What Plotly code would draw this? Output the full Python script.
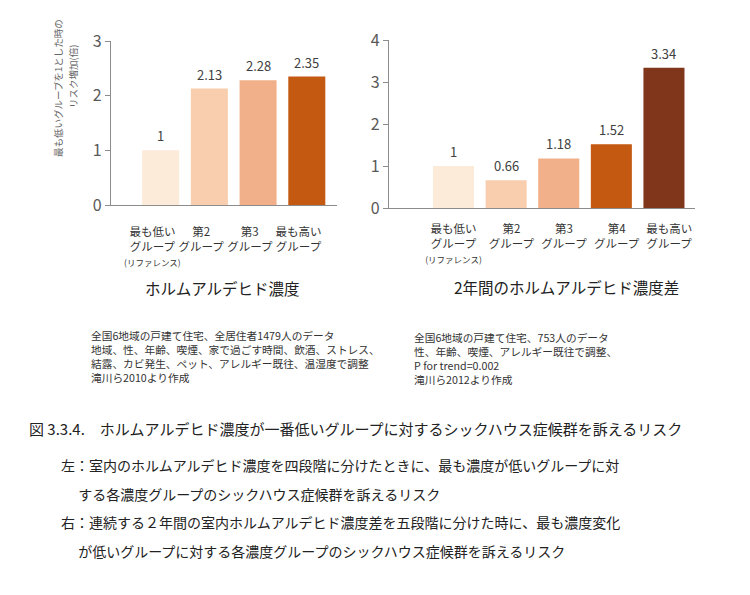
import plotly.graph_objects as go

# ---- data ----
left_categories = ["最も低い", "第2", "第3", "最も高い"]
left_values = [1, 2.13, 2.28, 2.35]
left_labels = ["1", "2.13", "2.28", "2.35"]

right_categories = ["最も低い", "第2", "第3", "第4", "最も高い"]
right_values = [1, 0.66, 1.18, 1.52, 3.34]
right_labels = ["1", "0.66", "1.18", "1.52", "3.34"]

left_colors = ["#FCEBD9", "#F8CEAE", "#F1B089", "#C45911"]
right_colors = ["#FCEBD9", "#F8CEAE", "#F1B089", "#C45911", "#80361A"]

left_title = "ホルムアルデヒド濃度"
right_title = "2年間のホルムアルデヒド濃度差"
y_title_lines = ["最も低いグループを1とした時の", "リスク増加(倍)"]

left_note = [
    "全国6地域の戸建て住宅、全居住者1479人のデータ",
    "地域、性、年齢、喫煙、家で過ごす時間、飲酒、ストレス、",
    "結露、カビ発生、ペット、アレルギー既往、温湿度で調整",
    "滝川ら2010より作成",
]
right_note = [
    "全国6地域の戸建て住宅、753人のデータ",
    "性、年齢、喫煙、アレルギー既往で調整、",
    "P for trend=0.002",
    "滝川ら2012より作成",
]

caption = "図 3.3.4.　ホルムアルデヒド濃度が一番低いグループに対するシックハウス症候群を訴えるリスク"
caption_lines = [
    "左：室内のホルムアルデヒド濃度を四段階に分けたときに、最も濃度が低いグループに対",
    "　 する各濃度グループのシックハウス症候群を訴えるリスク",
    "右：連続する２年間の室内ホルムアルデヒド濃度差を五段階に分けた時に、最も濃度変化",
    "　 が低いグループに対する各濃度グループのシックハウス症候群を訴えるリスク",
]

FONT = "Noto Sans CJK JP"
W, H = 750, 595
OFF = 8  # page body margin


def px_y(y):
    return 1 - (y - OFF) / H


def px_x(x):
    return (x - OFF) / W


def tick_text(cat, first):
    txt = cat + "<br>グループ"
    if first:
        txt += '<br><span style="font-size:8.5px">(リファレンス)</span>'
    return txt


def note(text, x, y, size, xanchor="center", yanchor="middle", **kw):
    fig.add_annotation(xref="paper", yref="paper", x=px_x(x), y=px_y(y),
                       xanchor=xanchor, yanchor=yanchor, text=text,
                       showarrow=False, font=dict(size=size, family=FONT,
                                                  color=kw.pop("color", "#333333")),
                       **kw)


fig = go.Figure()

fig.add_bar(
    x=list(range(len(left_values))),
    y=left_values,
    marker=dict(color=left_colors, line_width=0),
    width=0.76,
    xaxis="x",
    yaxis="y",
    showlegend=False,
)
fig.add_bar(
    x=list(range(len(right_values))),
    y=right_values,
    marker=dict(color=right_colors, line_width=0),
    width=0.78,
    xaxis="x2",
    yaxis="y2",
    showlegend=False,
)

# value labels above bars
for i, (v, t) in enumerate(zip(left_values, left_labels)):
    fig.add_annotation(x=i, y=v, xref="x", yref="y", text=t, showarrow=False,
                       xanchor="center", yanchor="bottom", yshift=3,
                       font=dict(size=13, color="#404040", family=FONT))
for i, (v, t) in enumerate(zip(right_values, right_labels)):
    fig.add_annotation(x=i, y=v, xref="x2", yref="y2", text=t, showarrow=False,
                       xanchor="center", yanchor="bottom", yshift=3,
                       font=dict(size=13, color="#404040", family=FONT))

axis_common = dict(showline=True, linecolor="#8C8C8C", linewidth=1.2,
                   showgrid=False, zeroline=False, automargin=False)

fig.update_layout(
    width=W,
    height=H,
    margin=dict(l=0, r=0, t=0, b=0, autoexpand=False),
    paper_bgcolor="white",
    plot_bgcolor="white",
    font=dict(family=FONT, color="#333333"),
    xaxis=dict(
        domain=[px_x(111), px_x(337)],
        range=[-1.02, 3.62],
        tickmode="array",
        # labels sit slightly left of the bar centres in the original
        tickvals=[i - 0.17 for i in range(len(left_categories))],
        ticktext=[tick_text(c, i == 0) for i, c in enumerate(left_categories)],
        tickfont=dict(size=11.5, color="#333333"),
        tickangle=0,
        ticks="",
        ticklabelstandoff=16,
        anchor="y",
        **axis_common,
    ),
    yaxis=dict(
        domain=[px_y(205), px_y(41)],
        range=[0, 3],
        dtick=1,
        ticks="outside",
        ticklen=5,
        tickcolor="#8C8C8C",
        tickfont=dict(size=16, color="#595959"),
        anchor="x",
        **axis_common,
    ),
    xaxis2=dict(
        domain=[px_x(389), px_x(695)],
        range=[-1.226, 4.59],
        tickmode="array",
        tickvals=[i + (0.1 if i else 0) for i in range(len(right_categories))],
        ticktext=[tick_text(c, i == 0) for i, c in enumerate(right_categories)],
        tickfont=dict(size=11.5, color="#333333"),
        tickangle=0,
        ticks="",
        ticklabelstandoff=10,
        anchor="y2",
        **axis_common,
    ),
    yaxis2=dict(
        domain=[px_y(208), px_y(40)],
        range=[0, 4],
        dtick=1,
        ticks="outside",
        ticklen=5,
        tickcolor="#8C8C8C",
        tickfont=dict(size=16, color="#595959"),
        anchor="x2",
        **axis_common,
    ),
)

# y axis title (left chart), two rotated lines
note(y_title_lines[0], 58, 88, 9.5, textangle=-90, color="#666666")
note(y_title_lines[1], 73, 77, 9.5, textangle=-90, color="#666666")

# chart titles
note(left_title, 222, 288, 15.5, color="#222222")
note(right_title, 566, 287, 15.5, color="#222222")

# notes
note("<br>".join(left_note), 89, 326, 10.7, xanchor="left", yanchor="top", align="left")
note("<br>".join(right_note), 412, 328, 10.7, xanchor="left", yanchor="top", align="left")

# caption
note(caption, 27, 428, 15, xanchor="left", color="#222222")
for line, y in zip(caption_lines, [465, 494, 522, 551]):
    note(line, 59, y, 14, xanchor="left", color="#222222")

fig.write_html("out.html")
